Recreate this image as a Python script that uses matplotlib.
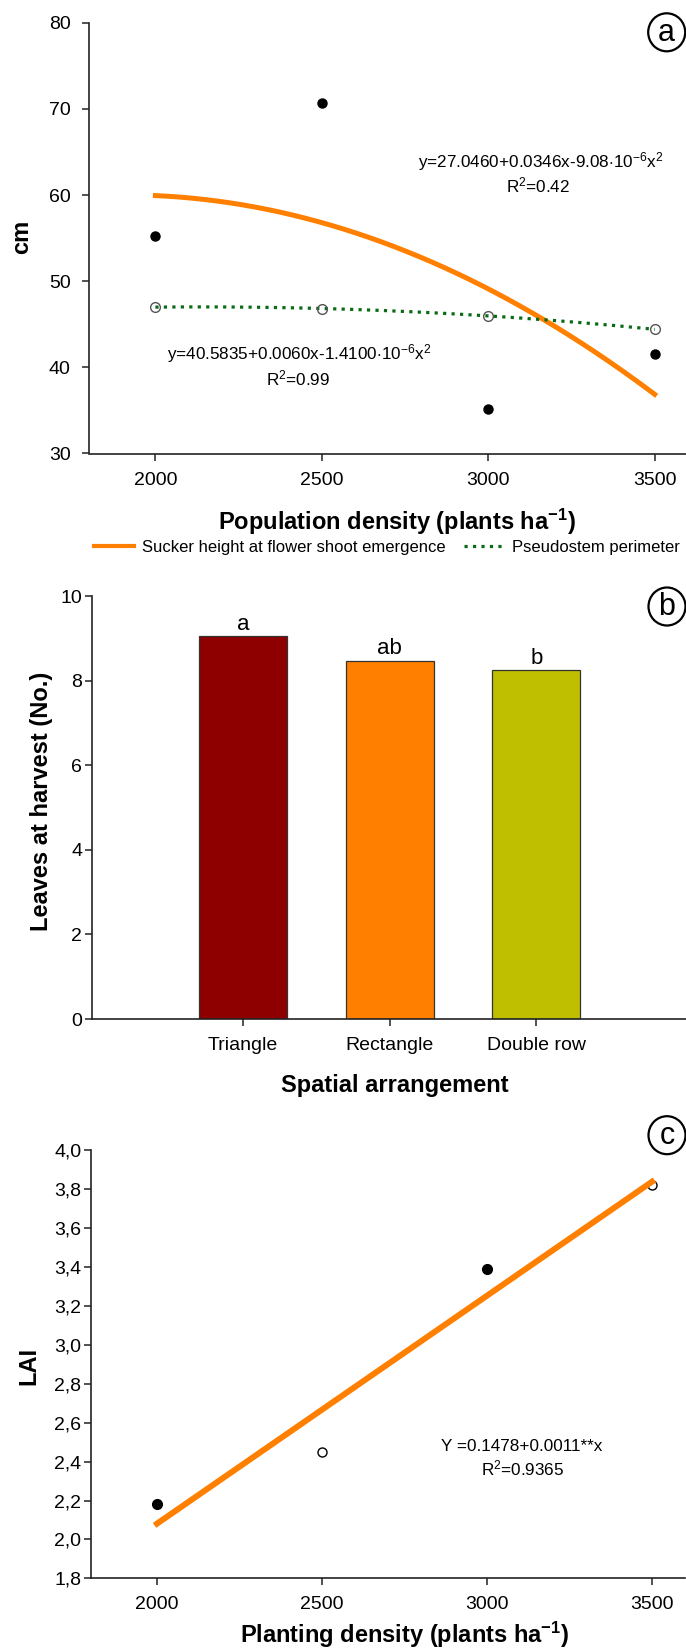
import numpy as np
import matplotlib
matplotlib.use("Agg")
from matplotlib import pyplot as plt
from matplotlib import font_manager
from matplotlib.lines import Line2D
from matplotlib.patches import Ellipse

# ---------------------------------- DATA ----------------------------------

density = [2000, 2500, 3000, 3500]

# panel a
sucker_height = [55.3, 70.7, 35.2, 41.5]
pseudostem = [47.0, 46.8, 46.0, 44.4]
a_yticks = [30, 40, 50, 60, 70, 80]

# panel b
arrangement = ["Triangle", "Rectangle", "Double row"]
leaves = [9.06, 8.47, 8.25]
leaves_letters = ["a", "ab", "b"]
b_yticks = [0, 2, 4, 6, 8, 10]

# panel c
lai = [2.18, 2.45, 3.39, 3.82]
lai_filled = [True, False, True, False]
c_yticks = [1.8, 2.0, 2.2, 2.4, 2.6, 2.8, 3.0, 3.2, 3.4, 3.6, 3.8, 4.0]

xticks = [2000, 2500, 3000, 3500]

# ---------------------------------- STYLE ----------------------------------

W, H = 686, 1652
ORANGE = "#FF8000"
GREEN = "#0A6B14"
bar_colors = ["#8E0000", "#FF8000", "#BFBF00"]

plt.rcParams["font.family"] = ["Liberation Sans", "DejaVu Sans"]
plt.rcParams["mathtext.fontset"] = "custom"
plt.rcParams["mathtext.rm"] = "Liberation Sans"
plt.rcParams["mathtext.it"] = "Liberation Sans:italic"
plt.rcParams["mathtext.bf"] = "Liberation Sans:bold"

# the equations look like a condensed Arial; use the narrow face when it exists
have_narrow = any(f.name == "Liberation Sans Narrow" for f in font_manager.fontManager.ttflist)
NARROW = ["Liberation Sans Narrow", "Liberation Sans"] if have_narrow else ["Liberation Sans"]
EQ_SIZE = 14.5 if have_narrow else 12.3
LEG_SIZE = 14.3 if have_narrow else 12.0
LET_SIZE = 17.5 if have_narrow else 16


def fx(px):
    return px / W


def fy(py):
    return 1 - py / H


def rect(left, right, top, bottom):
    return [fx(left), fy(bottom), (right - left) / W, (bottom - top) / H]


def style_axes(ax, ypad):
    for s in ["top", "right"]:
        ax.spines[s].set_visible(False)
    for s in ["left", "bottom"]:
        ax.spines[s].set_linewidth(1.2)
        ax.spines[s].set_color("#222222")
    ax.tick_params(axis="both", direction="out", length=5, width=1.1,
                   color="#222222", labelsize=14)
    ax.tick_params(axis="y", pad=ypad)
    ax.tick_params(axis="x", pad=8)


def circle_label(letter, cx, cy):
    fig.add_artist(Ellipse((fx(cx), fy(cy)), 37 / W, 38 / H, transform=fig.transFigure,
                           facecolor="white", edgecolor="black", lw=1.6))
    fig.text(fx(cx), fy(cy + 1), letter, ha="center", va="center", fontsize=22, family=NARROW)


fig = plt.figure(figsize=(W / 100, H / 100), dpi=100)

# ---------------------------------- PANEL A ----------------------------------
ax1 = fig.add_axes(rect(88.8, 688, 22.7, 453.5))
xs = np.linspace(density[0], density[-1], 200)
fit_a1 = np.polyfit(density, sucker_height, 2)
fit_a2 = np.polyfit(density, pseudostem, 2)
ax1.plot(xs, np.polyval(fit_a1, xs), color=ORANGE, lw=3.6, zorder=2)
ax1.plot(xs, np.polyval(fit_a2, xs), color=GREEN, lw=2.3, ls=":", zorder=3)
ax1.plot(density, sucker_height, "o", color="black", ms=6.5, zorder=4)
ax1.plot(density, pseudostem, "o", mfc="none", mec="#555555", mew=1.0, ms=7, zorder=4)
ax1.set_xlim(1800, 3600)
ax1.set_ylim(30, 80)
ax1.set_xticks(xticks)
ax1.set_yticks(a_yticks)
style_axes(ax1, ypad=8)

fig.text(fx(540.3), fy(161.7), r"y=27.0460+0.0346x-9.08$\cdot$10$^{-6}$x$^{2}$",
         ha="center", va="center", fontsize=EQ_SIZE, family=NARROW)
fig.text(fx(538), fy(185.5), r"R$^{2}$=0.42", ha="center", va="center", fontsize=EQ_SIZE, family=NARROW)
fig.text(fx(299.5), fy(353.3), r"y=40.5835+0.0060x-1.4100$\cdot$10$^{-6}$x$^{2}$",
         ha="center", va="center", fontsize=EQ_SIZE, family=NARROW)
fig.text(fx(298), fy(378), r"R$^{2}$=0.99", ha="center", va="center", fontsize=EQ_SIZE, family=NARROW)

fig.text(fx(21.9), fy(237.3), "cm", rotation=90, ha="center", va="center", fontsize=17, fontweight="bold")
fig.text(fx(396.5), fy(521.7), r"Population density (plants ha$^{\mathbf{-1}}$)",
         ha="center", va="center", fontsize=17, fontweight="bold")

handles = [Line2D([], [], color=ORANGE, lw=3.0), Line2D([], [], color=GREEN, lw=2.3, ls=":")]
fig.legend(handles, ["Sucker height at flower shoot emergence", "Pseudostem perimeter"],
           loc="center", bbox_to_anchor=(fx(387), fy(547.3)), ncol=2, frameon=False,
           handlelength=2.4, handletextpad=0.48, columnspacing=1.1,
           prop={"family": NARROW, "size": LEG_SIZE}, borderpad=0, borderaxespad=0)
circle_label("a", 666.7, 32.3)

# ---------------------------------- PANEL B ----------------------------------
ax2 = fig.add_axes(rect(92, 687.2, 596.2, 1019))
pos = np.arange(len(arrangement))
ax2.bar(pos, leaves, width=0.6, color=bar_colors, edgecolor="#333333", linewidth=0.9, zorder=2)
for i, (h, lab) in enumerate(zip(leaves, leaves_letters)):
    ax2.annotate(lab, (pos[i], h), xytext=(0, 1.0), textcoords="offset points",
                 ha="center", va="bottom", fontsize=LET_SIZE, family=NARROW)
ax2.set_xlim(-1.028, 3.028)
ax2.set_ylim(0, 10)
ax2.set_xticks(pos)
ax2.set_xticklabels(arrangement)
ax2.set_yticks(b_yticks)
style_axes(ax2, ypad=2)

fig.text(fx(41.6), fy(801), "Leaves at harvest (No.)", rotation=90, ha="center", va="center",
         fontsize=17, fontweight="bold")
fig.text(fx(395.2), fy(1085.1), "Spatial arrangement", ha="center", va="center",
         fontsize=17, fontweight="bold")
circle_label("b", 667, 606.5)

# ---------------------------------- PANEL C ----------------------------------
ax3 = fig.add_axes(rect(91, 685, 1150.4, 1578.3))
for x, y, filled in zip(density, lai, lai_filled):
    ax3.plot(x, y, "o", mfc="black" if filled else "white", mec="black", mew=1.0,
             ms=7 if filled else 6.5, zorder=2)
fit_c = np.polyfit(density, lai, 1)
xl = np.array([density[0], density[-1]])
ax3.plot(xl, np.polyval(fit_c, xl), color=ORANGE, lw=4.3, zorder=3)
ax3.set_xlim(1800, 3600)
ax3.set_ylim(1.8, 4.0)
ax3.set_xticks(xticks)
ax3.set_yticks(c_yticks)
ax3.set_yticklabels([f"{v:.1f}".replace(".", ",") for v in c_yticks])
style_axes(ax3, ypad=2)

fig.text(fx(522), fy(1446.7), "Y =0.1478+0.0011**x", ha="center", va="center",
         fontsize=EQ_SIZE, family=NARROW)
fig.text(fx(522.8), fy(1468.3), r"R$^{2}$=0.9365", ha="center", va="center",
         fontsize=EQ_SIZE, family=NARROW)
fig.text(fx(28.4), fy(1366), "LAI", rotation=90, ha="center", va="center", fontsize=17, fontweight="bold")
fig.text(fx(404.8), fy(1635), r"Planting density (plants ha$^{\mathbf{-1}}$)",
         ha="center", va="center", fontsize=17, fontweight="bold")
circle_label("c", 667, 1135.2)

fig.savefig("out.png", dpi=100)
